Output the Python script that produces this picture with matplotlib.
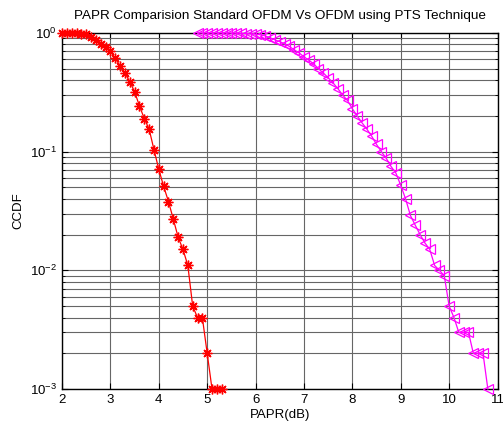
import matplotlib
matplotlib.use("Agg")
import matplotlib.pyplot as plt
from matplotlib.ticker import LogLocator, NullFormatter, FixedLocator

plt.rcParams['font.family'] = ['Liberation Sans', 'DejaVu Sans']
plt.rcParams['mathtext.default'] = 'regular'

# Standard OFDM (red, '*')
papr_ofdm = [2.0, 2.1, 2.2, 2.3, 2.4, 2.5, 2.6, 2.7, 2.8, 2.9,
             3.0, 3.1, 3.2, 3.3, 3.4, 3.5, 3.6, 3.7, 3.8, 3.9,
             4.0, 4.1, 4.2, 4.3, 4.4, 4.5, 4.6, 4.7, 4.8, 4.9,
             5.0, 5.1, 5.2, 5.3]
ccdf_ofdm = [1.0, 1.0, 1.0, 0.998, 0.99, 0.975, 0.93, 0.88, 0.81, 0.76,
             0.70, 0.61, 0.53, 0.46, 0.39, 0.32, 0.243, 0.19, 0.155, 0.104,
             0.071, 0.051, 0.038, 0.027, 0.019, 0.015, 0.011, 0.005, 0.004, 0.004,
             0.002, 0.001, 0.001, 0.001]

# OFDM using PTS (magenta, '<')
papr_pts = [4.8, 4.9, 5.0, 5.1, 5.2, 5.3, 5.4, 5.5, 5.6, 5.7,
            5.8, 5.9, 6.0, 6.1, 6.2, 6.3, 6.4, 6.5, 6.6, 6.7,
            6.8, 6.9, 7.0, 7.1, 7.2, 7.3, 7.4, 7.5, 7.6, 7.7,
            7.8, 7.9, 8.0, 8.1, 8.2, 8.3, 8.4, 8.5, 8.6, 8.7,
            8.8, 8.9, 9.0, 9.1, 9.2, 9.3, 9.4, 9.5, 9.6, 9.7,
            9.8, 9.9, 10.0, 10.1, 10.2, 10.3, 10.4, 10.5, 10.6, 10.7,
            10.8]
ccdf_pts = [1.0, 1.0, 1.0, 1.0, 1.0, 1.0, 0.999, 0.998, 0.996, 0.993,
            0.99, 0.985, 0.98, 0.965, 0.945, 0.91, 0.875, 0.845, 0.81, 0.77,
            0.72, 0.68, 0.63, 0.59, 0.55, 0.50, 0.46, 0.42, 0.38, 0.34,
            0.30, 0.27, 0.23, 0.20, 0.175, 0.155, 0.135, 0.115, 0.10, 0.088,
            0.075, 0.066, 0.052, 0.040, 0.029, 0.024, 0.020, 0.017, 0.015, 0.011,
            0.010, 0.009, 0.005, 0.004, 0.003, 0.003, 0.003, 0.002, 0.002, 0.002,
            0.001]

xticks = [2, 3, 4, 5, 6, 7, 8, 9, 10, 11]

fig = plt.figure(figsize=(5.03, 4.28), dpi=100)
ax = fig.add_axes([0.1233, 0.0911, 0.8658, 0.8318])

ax.semilogy(papr_ofdm, ccdf_ofdm, color='red', marker=(8, 2, 0), markersize=7,
            markeredgewidth=1.0, linewidth=0.9, clip_on=False, zorder=3)
ax.semilogy(papr_pts, ccdf_pts, color='magenta', marker='<', markersize=7,
            markerfacecolor='none', markeredgewidth=0.9, linewidth=0.9,
            clip_on=False, zorder=3)

ax.set_xlim(2, 11)
ax.set_ylim(1e-3, 1)
ax.xaxis.set_major_locator(FixedLocator(xticks))
ax.yaxis.set_major_locator(LogLocator(base=10, numticks=10))
ax.yaxis.set_minor_locator(LogLocator(base=10, subs=range(2, 10), numticks=20))
ax.yaxis.set_minor_formatter(NullFormatter())

ax.grid(True, which='major', color='0.4', linewidth=0.8, linestyle='-')
ax.grid(True, which='minor', axis='y', color='0.4', linewidth=0.8, linestyle='-')
ax.set_axisbelow(True)

ax.tick_params(which='both', direction='in', top=True, right=True,
               labelsize=9.5, colors='black')
ax.tick_params(which='major', length=4)
ax.tick_params(which='minor', length=2)
for s in ax.spines.values():
    s.set_linewidth(1.0)
    s.set_color('black')

ax.set_title('PAPR Comparision Standard OFDM Vs OFDM using PTS Technique',
             fontsize=9.7, pad=10)
ax.set_xlabel('PAPR(dB)', fontsize=9.5, labelpad=2)
ax.set_ylabel('CCDF', fontsize=9.5, labelpad=4)

fig.savefig('out.png', dpi=100)
